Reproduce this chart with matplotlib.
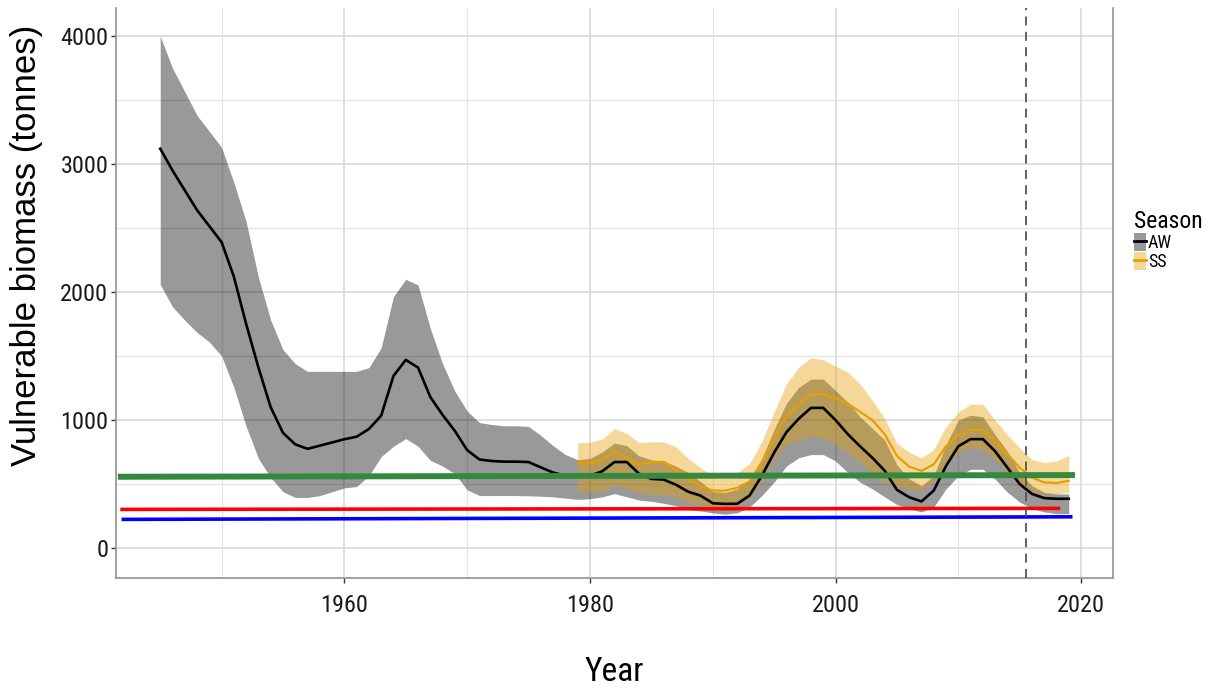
import numpy as np
import matplotlib
matplotlib.use("Agg")
import matplotlib.pyplot as plt
from matplotlib import font_manager as fm
from matplotlib.lines import Line2D
from matplotlib.patches import Patch

# autumn-winter (AW) biomass, median and interval
aw_years = list(range(1945, 2020))
aw_med = [3120, 2950, 2795, 2640, 2515, 2390, 2120, 1750, 1410, 1100,
          900, 810, 775, 800, 825, 850, 870, 930, 1035, 1345,
          1470, 1410, 1180, 1040, 915, 765, 692, 680, 675, 675,
          672, 630, 590, 565, 560, 565, 600, 672, 672, 580,
          540, 535, 495, 440, 410, 350, 345, 346, 410, 565,
          745, 905, 1010, 1095, 1095, 1000, 890, 795, 705, 605,
          455, 397, 364, 449, 641, 795, 851, 851, 756, 628,
          500, 423, 390, 385, 385]
aw_lo = [2060, 1885, 1780, 1685, 1610, 1500, 1255, 950, 700, 550,
         440, 395, 395, 410, 440, 470, 480, 565, 715, 795,
         855, 795, 685, 640, 580, 455, 410, 410, 410, 410,
         408, 405, 400, 390, 380, 385, 400, 425, 400, 375,
         365, 350, 330, 300, 290, 275, 265, 275, 320, 410,
         515, 640, 705, 730, 730, 680, 590, 515, 462, 400,
         340, 308, 282, 321, 462, 564, 615, 615, 538, 436,
         359, 308, 282, 269, 269]
aw_hi = [4000, 3750, 3565, 3380, 3255, 3130, 2855, 2550, 2115, 1780,
         1550, 1440, 1380, 1380, 1380, 1380, 1380, 1410, 1565, 1965,
         2100, 2055, 1715, 1440, 1225, 1070, 980, 965, 955, 955,
         950, 880, 800, 730, 690, 700, 750, 820, 800, 720,
         690, 680, 640, 590, 520, 440, 436, 460, 540, 700,
         925, 1130, 1255, 1320, 1320, 1230, 1140, 1025, 935, 845,
         650, 540, 487, 564, 808, 1000, 1038, 1026, 885, 756,
         590, 487, 436, 423, 423]

# spring-summer (SS) biomass, median and interval
ss_years = list(range(1979, 2020))
ss_med = [662, 665, 690, 752, 700, 650, 668, 674, 610, 540,
          487, 449, 449, 470, 520, 665, 855, 1030, 1125, 1200,
          1205, 1167, 1128, 1064, 1000, 890, 720, 636, 603, 654,
          795, 885, 923, 923, 833, 731, 628, 551, 513, 508, 526]
ss_lo = [440, 440, 445, 492, 466, 430, 420, 419, 400, 360,
         345, 321, 321, 340, 385, 526, 692, 808, 846, 872,
         859, 808, 744, 667, 590, 513, 480, 465, 449, 526,
         667, 756, 782, 769, 692, 603, 513, 449, 423, 423, 436]
ss_hi = [822, 825, 850, 934, 895, 825, 830, 830, 791, 700,
         628, 564, 564, 590, 660, 833, 1064, 1282, 1410, 1487,
         1470, 1423, 1372, 1282, 1154, 1013, 820, 749, 705, 769,
         949, 1064, 1123, 1123, 1000, 885, 782, 692, 667, 679, 723]

# reference levels: (start year, end year), (start value, end value)
green_x, green_y = [1941.55, 2019.5], [557, 570]
red_x, red_y = [1941.75, 2018.3], [302, 310]
blue_x, blue_y = [1941.85, 2019.3], [224, 244]
last_assessment = 2015.5

AW_COL = "black"
SS_COL = "#E69F00"


def narrow_font():
    # pick a condensed sans if one is installed, else plain Liberation Sans
    wanted = ["Liberation Sans Narrow", "Arial Narrow", "Roboto Condensed",
              "Noto Sans Condensed", "Open Sans Condensed", "DejaVu Sans Condensed"]
    fonts = fm.fontManager.ttflist
    names = {f.name for f in fonts}
    for w in wanted:
        if w in names:
            return fm.FontProperties(family=w)
    for f in fonts:
        if f.stretch in ("condensed", "semi-condensed") and f.style == "normal" \
                and f.weight in (400, "normal", "regular") and "Sans" in f.name \
                and "CJK" not in f.name and "Mono" not in f.name:
            return fm.FontProperties(fname=f.fname)
    return fm.FontProperties(family="Liberation Sans")


base = narrow_font()


def fp(size):
    p = base.copy()
    p.set_size(size)
    return p


fig = plt.figure(figsize=(12.12, 6.86), dpi=100)
ax = fig.add_axes([116 / 1212, 1 - 578 / 686, 997 / 1212, 570 / 686])

ax.fill_between(aw_years, aw_lo, aw_hi, color=AW_COL, alpha=0.4, lw=0, zorder=2)
ax.fill_between(ss_years, ss_lo, ss_hi, color=SS_COL, alpha=0.4, lw=0, zorder=2)
ax.plot(aw_years, aw_med, color=AW_COL, lw=1.9, zorder=3)
ax.plot(ss_years, ss_med, color=SS_COL, lw=1.6, zorder=3)

ax.plot(green_x, green_y, color="#338a3e", lw=4.3, solid_capstyle="butt", zorder=4)
ax.plot(red_x, red_y, color="#ff0000", lw=2.6, solid_capstyle="butt", zorder=4)
ax.plot(blue_x, blue_y, color="#0000ff", lw=2.6, solid_capstyle="butt", zorder=4)

ax.axvline(last_assessment, color="#555555", lw=1.3, dashes=(5, 3.5), zorder=5)

ax.set_xlim(1941.4, 2022.6)
ax.set_ylim(-234, 4219)
ax.set_xticks([1960, 1980, 2000, 2020])
ax.set_xticks([1950, 1970, 1990, 2010], minor=True)
ax.set_yticks([0, 1000, 2000, 3000, 4000])
ax.set_yticks([500, 1500, 2500, 3500], minor=True)

ax.grid(which="major", color="#d6d6d6", lw=1.1, zorder=0)
ax.grid(which="minor", color="#e4e4e4", lw=0.9, zorder=0)
ax.set_axisbelow(True)

ax.tick_params(which="minor", length=0)
ax.tick_params(which="major", length=3.5, width=1.0, color="#333333",
               labelcolor="#1a1a1a")
ax.tick_params(axis="x", pad=8)
ax.tick_params(axis="y", pad=2)
for lab in ax.get_xticklabels() + ax.get_yticklabels():
    lab.set_fontproperties(fp(17.5))

for side in ["left", "right", "bottom"]:
    ax.spines[side].set_color("#999999")
    ax.spines[side].set_linewidth(1.3)
ax.spines["top"].set_visible(False)

ax.set_xlabel("Year", fontproperties=fp(24), color="black")
ax.xaxis.set_label_coords(0.5, -0.137)
ax.set_ylabel("Vulnerable biomass (tonnes)", fontsize=25,
              family=["Liberation Sans", "DejaVu Sans"], color="black")
ax.yaxis.set_label_coords(-0.073, 0.584)

handles = [(Patch(facecolor=AW_COL, alpha=0.4, edgecolor="none"), Line2D([], [], color=AW_COL, lw=2)),
           (Patch(facecolor=SS_COL, alpha=0.4, edgecolor="none"), Line2D([], [], color=SS_COL, lw=2))]
leg = fig.legend(handles, ["AW", "SS"], title="Season", loc="upper left",
                 bbox_to_anchor=(1134 / 1212, 1 - 210 / 686), frameon=False,
                 prop=fp(13), title_fontproperties=fp(17),
                 handlelength=0.65, handleheight=1.15, handletextpad=0.12,
                 labelspacing=0.0, borderpad=0, borderaxespad=0, alignment="left")

fig.savefig("out.png", dpi=100)
